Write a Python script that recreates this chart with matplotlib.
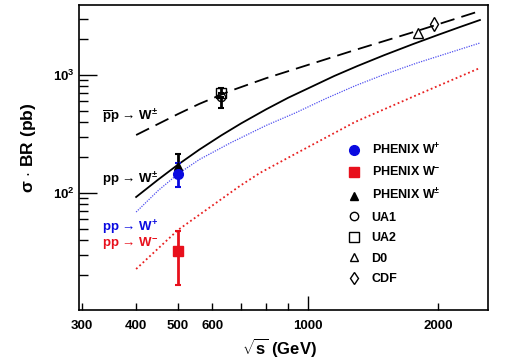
import numpy as np
import matplotlib
matplotlib.use('Agg')
import matplotlib.pyplot as plt
from matplotlib.lines import Line2D
from matplotlib.ticker import FixedLocator, FixedFormatter, NullFormatter

plt.rcParams.update({
    'font.family': ['Liberation Sans', 'DejaVu Sans'],
    'font.weight': 'bold',
    'mathtext.fontset': 'custom',
    'mathtext.rm': 'Liberation Sans:bold',
    'mathtext.bf': 'Liberation Sans:bold',
    'mathtext.it': 'Liberation Sans:bold',
    'mathtext.sf': 'Liberation Sans:bold',
    'mathtext.default': 'rm',
})

# theory curves
solid_s = [400, 450, 500, 560, 630, 700, 800, 900, 1000, 1150, 1300, 1500, 1750, 2000, 2250, 2500]
pp_wpm = [92.5, 130, 174, 233, 308, 389, 512, 642, 770, 981, 1190, 1472, 1828, 2188, 2555, 2924]

dash_s = [400, 500, 560, 660, 800, 933, 1285, 1787, 2500]
ppbar_wpm = [310, 467, 569, 732, 940, 1124, 1629, 2360, 3487]

blue_s = [400, 450, 500, 560, 660, 800, 933, 1100, 1285, 1500, 1787, 2500]
pp_wplus = [69, 105, 145, 192, 265, 374, 476, 632, 810, 1010, 1264, 1867]

red_s = [400, 500, 696, 774, 933, 1285, 1787, 2500]
pp_wminus = [22.7, 48.6, 115, 148, 214, 400, 677, 1147]

# measurements: energy, value, lower, upper
phenix_wplus = (500, 145, 112, 178)
phenix_wminus = (500, 32, 16.6, 48)
phenix_wpm = (500, 170, 140, 214)
ua1 = (630, 650, 525, 650)
ua2 = (630, 700, 700, 776)
d0 = (1800, 2270)
cdf = (1960, 2705)

BLUE = '#0a0ae0'
RED = '#e8101c'

fig = plt.figure(figsize=(5.05, 3.62), dpi=100)
ax = fig.add_axes([79 / 505, 1 - 310 / 362, 409 / 505, 305 / 362])
ax.set_xscale('log')
ax.set_yscale('log')
ax.set_xlim(295, 2610)
ax.set_ylim(10.2, 3920)

ax.plot(dash_s, ppbar_wpm, color='black', lw=1.3, dashes=(8, 4))
ax.plot(solid_s, pp_wpm, color='black', lw=1.3)
ax.plot(blue_s, pp_wplus, color='#5050f0', lw=0.9, ls=(0, (1, 1)))
ax.plot(red_s, pp_wminus, color='#e82020', lw=1.3, ls=(0, (1, 1.5)))


def point(p, marker, color, mfc, ms):
    x, y, lo, hi = p
    ax.errorbar([x], [y], yerr=[[y - lo], [hi - y]], fmt=marker, color=color,
                mfc=mfc, mec=color, ms=ms, lw=2, capsize=2.5, capthick=1.5)


point(phenix_wpm, '^', 'black', 'black', 6)
point(phenix_wplus, 'o', BLUE, BLUE, 7)
point(phenix_wminus, 's', RED, RED, 6.5)
point(ua2, 's', 'black', 'none', 6.5)
point(ua1, 'o', 'black', 'none', 6)
ax.plot([d0[0]], [d0[1]], marker='^', mfc='none', mec='black', ms=7, ls='none')
ax.plot([cdf[0]], [cdf[1]], marker='d', mfc='none', mec='black', ms=7, ls='none')

# ticks in ROOT style
ax.xaxis.set_major_locator(FixedLocator([1000]))
ax.xaxis.set_major_formatter(FixedFormatter(['1000']))
ax.xaxis.set_minor_locator(FixedLocator([300, 400, 500, 600, 700, 800, 900, 2000]))
ax.xaxis.set_minor_formatter(FixedFormatter(['300', '400', '500', '600', '', '', '', '2000']))
ax.tick_params(axis='both', which='both', direction='in', top=False, right=False,
               labelsize=9.5, width=1)
ax.tick_params(axis='x', which='major', length=10, pad=7)
ax.tick_params(axis='x', which='minor', length=5, pad=7)
ax.tick_params(axis='y', which='major', length=13, pad=3)
ax.tick_params(axis='y', which='minor', length=6.5)
ax.yaxis.set_minor_formatter(NullFormatter())
ax.set_yticks([100, 1000], ['$10^{2}$', '$10^{3}$'])
for s in ax.spines.values():
    s.set_linewidth(1.2)

ax.set_xlabel(r'$\sqrt{\mathrm{s}}$ (GeV)', fontsize=12, fontweight='bold')
ax.xaxis.set_label_coords(0.49, -0.085)
ax.set_ylabel(r'$\sigma$ $\cdot$ BR (pb)', fontsize=12.5, fontweight='bold')
ax.yaxis.set_label_coords(-0.10, 0.53)

ax.text(0.056, 0.633, r'$\overline{\mathrm{p}}$p → W$^{\pm}$', transform=ax.transAxes,
        fontsize=9.5, va='center', color='black')
ax.text(0.056, 0.428, r'pp → W$^{\pm}$', transform=ax.transAxes,
        fontsize=9.5, va='center', color='black')
ax.text(0.056, 0.268, r'pp → W$^{+}$', transform=ax.transAxes,
        fontsize=9.5, va='center', color=BLUE)
ax.text(0.056, 0.216, r'pp → W$^{-}$', transform=ax.transAxes,
        fontsize=9.5, va='center', color=RED)

handles = [
    Line2D([], [], marker='o', ls='none', color=BLUE, ms=7),
    Line2D([], [], marker='s', ls='none', color=RED, ms=6.5),
    Line2D([], [], marker='^', ls='none', color='black', ms=6),
    Line2D([], [], marker='o', ls='none', mfc='none', mec='black', ms=6),
    Line2D([], [], marker='s', ls='none', mfc='none', mec='black', ms=6.5),
    Line2D([], [], marker='^', ls='none', mfc='none', mec='black', ms=6),
    Line2D([], [], marker='d', ls='none', mfc='none', mec='black', ms=6),
]
labels = ['PHENIX W$^{+}$', 'PHENIX W$^{-}$', 'PHENIX W$^{\\pm}$', 'UA1', 'UA2', 'D0', 'CDF']
ax.legend(handles, labels, loc='upper left', bbox_to_anchor=(0.645, 0.566), frameon=False,
          fontsize=9, handlelength=1.0, handletextpad=0.9, labelspacing=0.68,
          borderaxespad=0)

fig.savefig('out.png', dpi=100)
